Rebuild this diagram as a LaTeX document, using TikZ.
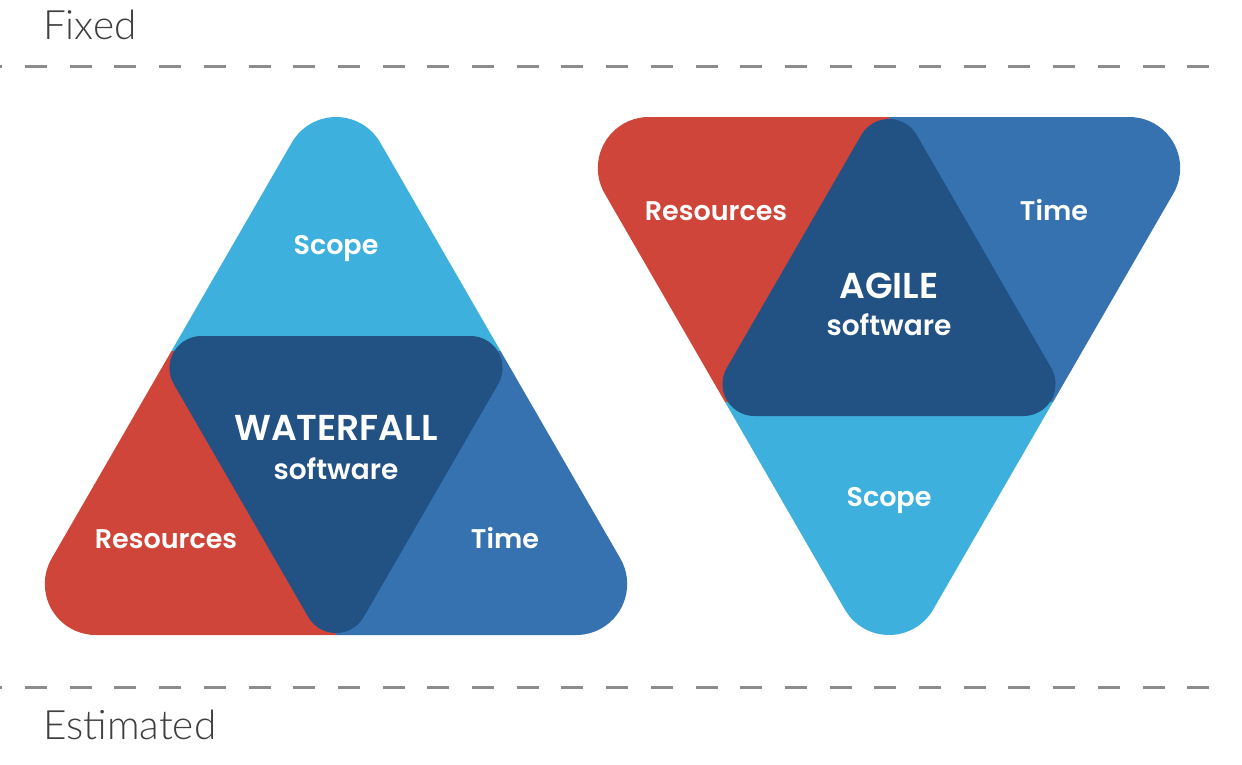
\documentclass[tikz,border=0pt]{standalone}
\usepackage{fontspec}
\setmainfont{Poppins}[BoldFont={Poppins SemiBold}]
\newfontfamily\thinfont{Lato Light}

\definecolor{scopeblue}{HTML}{3DB0DE}
\definecolor{resred}{HTML}{CF4539}
\definecolor{timeblue}{HTML}{3672B0}
\definecolor{coreblue}{HTML}{225183}
\definecolor{guidegray}{HTML}{8C8C8C}
\definecolor{axisgray}{HTML}{3F3F3F}

\tikzset{
  guide/.style={draw=guidegray, line width=3pt, dash pattern=on 22pt off 22.7pt, dash phase=19.7pt},
  axislabel/.style={text=axisgray, font=\thinfont\fontsize{40.5}{44}\selectfont, anchor=base west, inner sep=0pt},
  part/.style={text=white, font=\bfseries\fontsize{27}{30}\selectfont, anchor=base, inner sep=0pt},
  method/.style={text=white, font=\bfseries\fontsize{36}{40}\selectfont, anchor=base, inner sep=0pt},
  kind/.style={text=white, font=\bfseries\fontsize{28}{31}\selectfont, anchor=base, inner sep=0pt},
}

% Triangle with circular-arc corners, apex on top.
% #1 path options, #2 centre x, #3 sharp apex y, #4 base y, #5 corner radius
\newcommand{\uptri}[5]{%
  \pgfmathsetmacro{\th}{(#4-#3)/sqrt(3)}%
  \pgfmathsetmacro{\tax}{#2-0.866*#5}%
  \pgfmathsetmacro{\tay}{#3+1.5*#5}%
  \pgfmathsetmacro{\tcx}{#2+\th-0.866*#5}%
  \pgfmathsetmacro{\tcy}{#4-1.5*#5}%
  \pgfmathsetmacro{\tbx}{#2-\th+1.732*#5}%
  \path[#1] (\tax,\tay) arc[start angle=150, end angle=30, radius=#5pt]
    -- (\tcx,\tcy) arc[start angle=30, end angle=-90, radius=#5pt]
    -- (\tbx,#4) arc[start angle=-90, end angle=-210, radius=#5pt]
    -- cycle;}
% Same, point at the bottom.
% #1 path options, #2 centre x, #3 top edge y, #4 sharp bottom y, #5 corner radius
\newcommand{\downtri}[5]{%
  \pgfmathsetmacro{\th}{(#4-#3)/sqrt(3)}%
  \pgfmathsetmacro{\tax}{#2-0.866*#5}%
  \pgfmathsetmacro{\tay}{#4-1.5*#5}%
  \pgfmathsetmacro{\tcx}{#2+\th-0.866*#5}%
  \pgfmathsetmacro{\tcy}{#3+1.5*#5}%
  \pgfmathsetmacro{\tbx}{#2-\th+1.732*#5}%
  \path[#1] (\tax,\tay) arc[start angle=-150, end angle=-30, radius=#5pt]
    -- (\tcx,\tcy) arc[start angle=-30, end angle=90, radius=#5pt]
    -- (\tbx,#3) arc[start angle=90, end angle=210, radius=#5pt]
    -- cycle;}

\begin{document}
\begin{tikzpicture}[x=1pt,y=-1pt]
\useasboundingbox (0,0) rectangle (1242,764);
\fill[white] (0,0) rectangle (1242,764);

% Fixed / Estimated guides
\draw[guide] (0,66) -- (1210,66);
\draw[guide] (0,687) -- (1210,687);
\node[axislabel] (fixed) at (43,39) {Fixed};
\node[axislabel] (estimated) at (43,739) {Estimated};

% ---------- Waterfall: upright triangle ----------
\begin{scope}
  \uptri{clip}{336}{66}{635}{51}
  \fill[scopeblue] (0,40) rectangle (680,350.5);
  \fill[resred] (0,350.5) rectangle (336,650);
  \fill[timeblue] (336,350.5) rectangle (680,650);
\end{scope}
\downtri{fill=coreblue}{336}{336}{665}{32}

\node[part] (wscope) at (336,254) {Scope};
\node[part] (wres) at (166,548) {Resources};
\node[part] (wtime) at (505,548) {Time};
\node[method] (wname) at (336,440) {WATERFALL};
\node[kind] (wkind) at (336,479) {software};

% ---------- Agile: inverted triangle ----------
\begin{scope}
  \downtri{clip}{889}{117}{686}{51}
  \fill[resred] (540,100) rectangle (889,401.5);
  \fill[timeblue] (889,100) rectangle (1240,401.5);
  \fill[scopeblue] (540,401.5) rectangle (1240,700);
\end{scope}
\uptri{fill=coreblue}{889}{87}{416}{32}

\node[part] (ares) at (716,220) {Resources};
\node[part] (atime) at (1054,220) {Time};
\node[method] (aname) at (889,298) {AGILE};
\node[kind] (akind) at (889,335) {software};
\node[part] (ascope) at (889,506) {Scope};
\end{tikzpicture}
\end{document}
